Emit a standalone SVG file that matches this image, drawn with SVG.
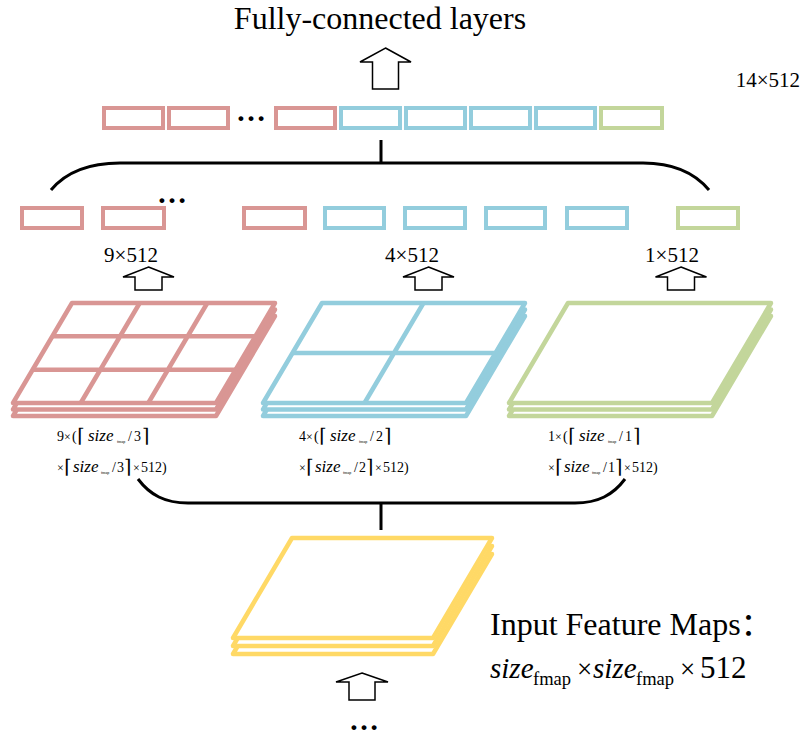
<svg xmlns="http://www.w3.org/2000/svg" xmlns:xlink="http://www.w3.org/1999/xlink" width="803" height="736" viewBox="0 0 803 736">
  <style>
    text { font-family: "Liberation Serif", "DejaVu Serif", serif; fill: #000; }
    .cjk { font-family: "Liberation Serif", "Noto Sans CJK SC", serif; }
    .it { font-style: italic; }
    .box { fill: #fff; stroke-width: 4; }
    .sheet { fill: #fff; stroke-width: 4.5; stroke-linejoin: round; }
    .grid { fill: none; stroke-width: 4.5; }
    .red { stroke: #D99694; }
    .blue { stroke: #93CDDD; }
    .green { stroke: #C3D69B; }
    .yellow { stroke: #FFD966; }
    .bracket { fill: none; stroke: #000; stroke-width: 3; }
    .hollow { fill: #fff; stroke: #000; stroke-width: 1.5; stroke-linejoin: miter; }
    .dots { font-size: 30px; font-weight: bold; }
    .dim { font-size: 21px; }
    .f14 { font-size: 14px; }
    .f12 { font-size: 12px; }
    .ceil { font-size: 19px; font-family: "DejaVu Serif", serif; }
    .sz { font-size: 17px; }
    .sub { font-size: 4px; }
  </style>
  <defs>
    <!-- one slanted sheet of a feature-map stack; top-left corner at (59,0) -->
    <path id="sheet" d="M59,0 H262 L203,100 H0 Z"/>
    <path id="sheetY" d="M59,0 H259 L200,100 H0 Z"/>
  </defs>

  <!-- title -->
  <g id="fc-layers">
    <text x="380" y="29" font-size="32" text-anchor="middle">Fully-connected layers</text>
  </g>

  <!-- concatenated 14x512 vector -->
  <g id="concat-vector">
    <rect class="box red" x="104" y="108" width="59" height="20"/>
    <rect class="box red" x="169" y="108" width="59" height="20"/>
    <text class="dots" x="236" y="121">…</text>
    <rect class="box red" x="276" y="108" width="59" height="20"/>
    <rect class="box blue" x="341" y="108" width="59" height="20"/>
    <rect class="box blue" x="406" y="108" width="59" height="20"/>
    <rect class="box blue" x="471" y="108" width="59" height="20"/>
    <rect class="box blue" x="536" y="108" width="59" height="20"/>
    <rect class="box green" x="601" y="108" width="61" height="20"/>
    <text class="dim" x="800" y="87" text-anchor="end">14×512</text>
  </g>

  <!-- pooled vectors per pyramid level -->
  <g id="pooled-9">
    <rect class="box red" x="22" y="208" width="60" height="20"/>
    <rect class="box red" x="103" y="208" width="61" height="20"/>
    <text class="dots" x="157" y="203">…</text>
    <rect class="box red" x="244" y="208" width="61" height="20"/>
    <text class="dim" x="131" y="262" text-anchor="middle">9×512</text>
  </g>
  <g id="pooled-4">
    <rect class="box blue" x="325" y="208" width="59" height="20"/>
    <rect class="box blue" x="405" y="208" width="60" height="20"/>
    <rect class="box blue" x="486" y="208" width="59" height="20"/>
    <rect class="box blue" x="567" y="208" width="60" height="20"/>
    <text class="dim" x="412" y="262" text-anchor="middle">4×512</text>
  </g>
  <g id="pooled-1">
    <rect class="box green" x="678" y="208" width="60" height="20"/>
    <text class="dim" x="672" y="262" text-anchor="middle">1×512</text>
  </g>

  <!-- 3x3 bins -->
  <g id="bins-3x3">
    <use href="#sheet" class="sheet red" x="13" y="316"/>
    <use href="#sheet" class="sheet red" x="13" y="309.5"/>
    <use href="#sheet" class="sheet red" x="13" y="303"/>
    <path class="grid red" d="M139.7,303 L80.7,403 M207.3,303 L148.3,403 M52.3,336.3 H255.3 M32.7,369.7 H235.7"/>
    <g transform="translate(57,0)">
      <text class="f14" x="0" y="441">9</text>
      <text class="f12" x="7" y="441">×</text>
      <text class="f14" x="15" y="441">(</text>
      <text class="ceil" x="20" y="442">⌈</text>
      <text class="sz it" x="31" y="441">size</text>
      <text class="sub" x="60" y="443">fmap</text>
      <text class="f14" x="71" y="441">/</text>
      <text class="f14" x="77" y="441">3</text>
      <text class="ceil" x="85" y="442">⌉</text>
      <text class="f12" x="0" y="472">×</text>
      <text class="ceil" x="7" y="473">⌈</text>
      <text class="sz it" x="16" y="472">size</text>
      <text class="sub" x="44" y="474">fmap</text>
      <text class="f14" x="55" y="472">/</text>
      <text class="f14" x="60" y="472">3</text>
      <text class="ceil" x="67" y="473">⌉</text>
      <text class="f12" x="76" y="472">×</text>
      <text class="f14" x="84" y="472">512)</text>
    </g>
  </g>

  <!-- 2x2 bins -->
  <g id="bins-2x2">
    <use href="#sheet" class="sheet blue" x="263" y="316"/>
    <use href="#sheet" class="sheet blue" x="263" y="309.5"/>
    <use href="#sheet" class="sheet blue" x="263" y="303"/>
    <path class="grid blue" d="M423.5,303 L364.5,403 M292.5,353 H495.5"/>
    <g transform="translate(299,0)">
      <text class="f14" x="0" y="441">4</text>
      <text class="f12" x="7" y="441">×</text>
      <text class="f14" x="15" y="441">(</text>
      <text class="ceil" x="20" y="442">⌈</text>
      <text class="sz it" x="31" y="441">size</text>
      <text class="sub" x="60" y="443">fmap</text>
      <text class="f14" x="71" y="441">/</text>
      <text class="f14" x="77" y="441">2</text>
      <text class="ceil" x="85" y="442">⌉</text>
      <text class="f12" x="0" y="472">×</text>
      <text class="ceil" x="7" y="473">⌈</text>
      <text class="sz it" x="16" y="472">size</text>
      <text class="sub" x="44" y="474">fmap</text>
      <text class="f14" x="55" y="472">/</text>
      <text class="f14" x="60" y="472">2</text>
      <text class="ceil" x="67" y="473">⌉</text>
      <text class="f12" x="76" y="472">×</text>
      <text class="f14" x="84" y="472">512)</text>
    </g>
  </g>

  <!-- 1x1 bin -->
  <g id="bins-1x1">
    <use href="#sheet" class="sheet green" x="509" y="316"/>
    <use href="#sheet" class="sheet green" x="509" y="309.5"/>
    <use href="#sheet" class="sheet green" x="509" y="303"/>
    <g transform="translate(548,0)">
      <text class="f14" x="0" y="441">1</text>
      <text class="f12" x="7" y="441">×</text>
      <text class="f14" x="15" y="441">(</text>
      <text class="ceil" x="20" y="442">⌈</text>
      <text class="sz it" x="31" y="441">size</text>
      <text class="sub" x="60" y="443">fmap</text>
      <text class="f14" x="71" y="441">/</text>
      <text class="f14" x="77" y="441">1</text>
      <text class="ceil" x="85" y="442">⌉</text>
      <text class="f12" x="0" y="472">×</text>
      <text class="ceil" x="7" y="473">⌈</text>
      <text class="sz it" x="16" y="472">size</text>
      <text class="sub" x="44" y="474">fmap</text>
      <text class="f14" x="55" y="472">/</text>
      <text class="f14" x="60" y="472">1</text>
      <text class="ceil" x="67" y="473">⌉</text>
      <text class="f12" x="76" y="472">×</text>
      <text class="f14" x="84" y="472">512)</text>
    </g>
  </g>

  <!-- input feature maps -->
  <g id="input-maps">
    <use href="#sheetY" class="sheet yellow" x="233" y="554"/>
    <use href="#sheetY" class="sheet yellow" x="233" y="546"/>
    <use href="#sheetY" class="sheet yellow" x="233" y="538"/>
    <text class="cjk" x="490" y="635" font-size="32">Input Feature Maps：</text>
    <text y="678">
      <tspan class="it" x="490" font-size="29">size</tspan><tspan x="533" dy="7" font-size="18.5">fmap</tspan><tspan x="577" dy="-7" font-size="27">×</tspan><tspan class="it" x="593" font-size="29">size</tspan><tspan x="636" dy="7" font-size="18.5">fmap</tspan><tspan x="680" dy="-7" font-size="27">×</tspan><tspan x="700" font-size="31">512</tspan>
    </text>
    <text class="dots" x="349" y="730">…</text>
  </g>

  <!-- connectors: brackets and hollow arrows -->
  <g id="connectors">
    <path class="bracket" d="M51,190 C66,172 90,163 120,163 L643,163 C672,163 694,172 709,190 M381,140 V163"/>
    <path class="bracket" d="M138,479 C150,495 165,503 188,503 L575,503 C598,503 613,495 625,479 M381,503 V530"/>
    <polygon class="hollow" points="385.5,48 411,62 398.5,62 398.5,89 372.5,89 372.5,62 360,62"/>
    <polygon class="hollow" points="148.5,267 174,277 162,277 162,290 135,290 135,277 123,277"/>
    <polygon class="hollow" points="428.5,267 454,277 442,277 442,290 415,290 415,277 403,277"/>
    <polygon class="hollow" points="681,267 706.5,277 694.5,277 694.5,290 667.5,290 667.5,277 655.5,277"/>
    <polygon class="hollow" points="362,673 388,682 375,682 375,700 349,700 349,682 336,682"/>
  </g>
</svg>
